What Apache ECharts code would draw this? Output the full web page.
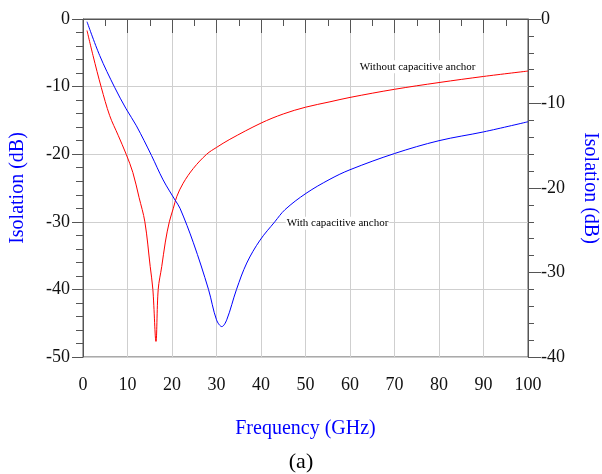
<!DOCTYPE html>
<html>
<head>
<meta charset="utf-8">
<script src="https://cdn.jsdelivr.net/npm/echarts@6/dist/echarts.min.js"></script>
<style>html,body{margin:0;padding:0;background:#fff}#c{width:602px;height:474px}</style>
</head>
<body>
<div id="c"></div>
<script>
// Data (frequency in GHz, isolation in dB, read on the left axis scale)
const redX = [0.9, 2.25, 4.1, 6.0, 7.9, 9.7, 11.2, 12.6, 13.9, 15.1, 15.7, 16.4, 16.9, 17.7, 18.5, 19.4, 20.3, 21.05, 22.5, 24.8, 27.8, 30, 33, 40, 45, 50, 55.5, 60, 70, 80, 90, 100];
const redY = [-1.7, -5.4, -10.1, -14.3, -17.2, -20, -22.7, -26.4, -30, -36.6, -40, -47.7, -40, -36.6, -33, -30, -28, -26.3, -24.3, -22.1, -20, -19, -17.8, -15.4, -14.05, -13.05, -12.25, -11.6, -10.4, -9.4, -8.5, -7.7];
const blueX = [0.9, 3.75, 7.1, 9.7, 12, 15.4, 18.0, 20.7, 21.8, 24.8, 28.2, 30, 31.2, 32.3, 34.5, 36.8, 39.8, 43.1, 45.4, 50.1, 55.5, 60, 70, 80, 90, 100];
const blueY = [-0.4, -5.4, -10.1, -13.3, -15.8, -20.2, -23.8, -26.8, -28, -33.1, -40, -44.5, -45.5, -44.5, -40, -36.1, -32.7, -30, -28.2, -25.8, -23.7, -22.3, -19.9, -18.0, -16.7, -15.2];
const xTicks = [0, 10, 20, 30, 40, 50, 60, 70, 80, 90, 100];
const leftTicks = [0, -10, -20, -30, -40, -50];
const rightTicks = [0, -10, -20, -30, -40];
const redLabel = 'Without capacitive anchor';
const blueLabel = 'With capacitive anchor';
const redLabelAt = [75.2, -7.05];
const blueLabelAt = [57.2, -30.2];

const FONT = "'Liberation Serif', 'Times New Roman', serif";
const zip = (xs, ys) => xs.map((x, i) => [x, ys[i]]);

const chart = echarts.init(document.getElementById('c'), null, {renderer: 'canvas'});
const axisLine = {show: true, lineStyle: {color: '#555', width: 1}};
const option = {
  backgroundColor: '#fff',
  animation: false,
  title: {
    text: '(a)', left: 'center', top: 446,
    textStyle: {fontFamily: FONT, fontSize: 22, fontWeight: 'normal', color: '#000'}
  },
  grid: {left: 83, right: 74, top: 19, bottom: 117, containLabel: false, outerBoundsMode: 'none',
         show: true, borderColor: '#555', borderWidth: 1, backgroundColor: 'transparent'},
  xAxis: {
    type: 'value', min: xTicks[0], max: xTicks[xTicks.length - 1], interval: 10,
    name: 'Frequency (GHz)', nameLocation: 'middle', nameGap: 62,
    nameTextStyle: {fontFamily: FONT, fontSize: 20, color: '#0000ff'},
    axisLine: axisLine,
    axisTick: {show: true, length: 14, lineStyle: {color: '#555'}},
    minorTick: {show: true, splitNumber: 2, length: 7, lineStyle: {color: '#555'}},
    axisLabel: {fontFamily: FONT, fontSize: 18, color: '#111', margin: 19},
    splitLine: {show: true, lineStyle: {color: '#cfcfcf', width: 1}}
  },
  yAxis: [{
    type: 'value', min: leftTicks[leftTicks.length - 1], max: leftTicks[0], interval: 10, position: 'left',
    name: 'Isolation (dB)', nameLocation: 'middle', nameGap: 55,
    nameTextStyle: {fontFamily: FONT, fontSize: 20, color: '#0000ff'},
    axisLine: axisLine,
    axisTick: {show: true, length: 11, lineStyle: {color: '#555'}},
    minorTick: {show: true, splitNumber: 5, length: 7, lineStyle: {color: '#555'}},
    axisLabel: {fontFamily: FONT, fontSize: 18, color: '#111', margin: 13},
    splitLine: {show: true, lineStyle: {color: '#cfcfcf', width: 1}}
  }, {
    type: 'value', min: rightTicks[rightTicks.length - 1], max: rightTicks[0], interval: 10, position: 'right',
    name: 'Isolation (dB)', nameLocation: 'middle', nameGap: 52, nameRotate: -90,
    nameTextStyle: {fontFamily: FONT, fontSize: 20, color: '#0000ff'},
    axisLine: axisLine,
    axisTick: {show: true, length: 13, lineStyle: {color: '#555'}},
    minorTick: {show: true, splitNumber: 5, length: 6, lineStyle: {color: '#555'}},
    axisLabel: {fontFamily: FONT, fontSize: 18, color: '#111', margin: 13},
    splitLine: {show: false}
  }],
  series: [{
    type: 'line', name: redLabel, yAxisIndex: 0, data: zip(redX, redY),
    showSymbol: false, smooth: 0.35, lineStyle: {color: '#ff0000', width: 1}, itemStyle: {color: '#ff0000'},
    markPoint: {
      symbol: 'circle', symbolSize: 0, silent: true,
      label: {show: true, formatter: redLabel, fontFamily: FONT, fontSize: 11, color: '#000', backgroundColor: '#fff', padding: [1, 1], position: 'inside'},
      data: [{coord: redLabelAt}]
    }
  }, {
    type: 'line', name: blueLabel, yAxisIndex: 0, data: zip(blueX, blueY),
    showSymbol: false, smooth: 0.35, lineStyle: {color: '#0000ff', width: 1}, itemStyle: {color: '#0000ff'},
    markPoint: {
      symbol: 'circle', symbolSize: 0, silent: true,
      label: {show: true, formatter: blueLabel, fontFamily: FONT, fontSize: 11, color: '#000', backgroundColor: '#fff', padding: [1, 1], position: 'inside'},
      data: [{coord: blueLabelAt}]
    }
  }]
};
chart.setOption(option);
</script>
</body>
</html>
